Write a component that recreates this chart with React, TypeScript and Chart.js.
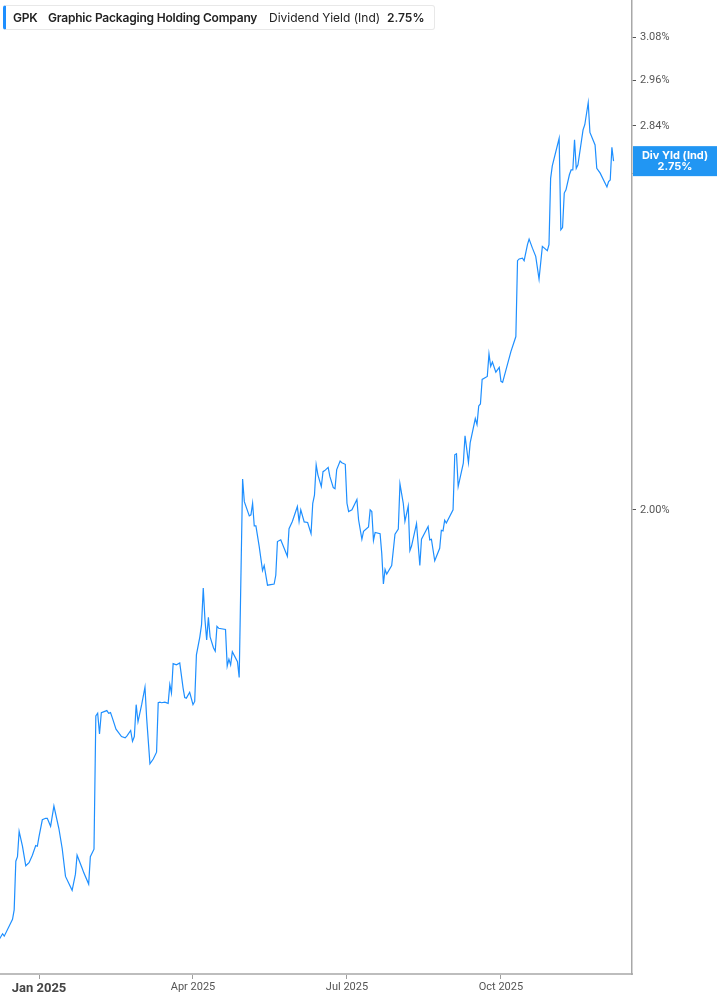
import { useEffect, useRef } from 'react';
import { Chart, registerables } from 'chart.js';

Chart.register(...registerables);

// daily dividend yield readings (%), GPK
const dates = [
  '2024-12-08', '2024-12-10', '2024-12-11', '2024-12-16', '2024-12-17', '2024-12-18', '2024-12-19', '2024-12-20',
  '2024-12-22', '2024-12-24', '2024-12-26', '2024-12-28', '2024-12-30', '2024-12-31',
  '2025-01-01', '2025-01-03', '2025-01-05', '2025-01-06', '2025-01-08', '2025-01-10', '2025-01-13', '2025-01-15',
  '2025-01-17', '2025-01-21', '2025-01-23', '2025-01-24', '2025-01-27', '2025-01-28', '2025-01-31',
  '2025-02-01', '2025-02-03', '2025-02-04', '2025-02-05', '2025-02-06', '2025-02-07', '2025-02-10', '2025-02-11',
  '2025-02-12', '2025-02-13', '2025-02-15', '2025-02-18', '2025-02-20', '2025-02-21', '2025-02-23', '2025-02-24',
  '2025-02-25', '2025-02-26', '2025-02-27',
  '2025-03-01', '2025-03-03', '2025-03-04', '2025-03-06', '2025-03-08', '2025-03-10', '2025-03-11', '2025-03-12',
  '2025-03-13', '2025-03-15', '2025-03-17', '2025-03-18', '2025-03-19', '2025-03-20', '2025-03-22', '2025-03-24',
  '2025-03-26', '2025-03-27', '2025-03-28', '2025-03-30',
  '2025-04-01', '2025-04-02', '2025-04-03', '2025-04-05', '2025-04-06', '2025-04-07', '2025-04-08', '2025-04-09',
  '2025-04-10', '2025-04-11', '2025-04-13', '2025-04-14', '2025-04-15', '2025-04-16', '2025-04-20', '2025-04-21',
  '2025-04-22', '2025-04-23', '2025-04-24', '2025-04-27', '2025-04-28', '2025-04-30',
  '2025-05-01', '2025-05-04', '2025-05-05', '2025-05-06', '2025-05-07', '2025-05-08', '2025-05-10', '2025-05-12',
  '2025-05-13', '2025-05-15', '2025-05-19', '2025-05-20', '2025-05-21', '2025-05-23', '2025-05-27', '2025-05-28',
  '2025-05-30',
  '2025-06-02', '2025-06-03', '2025-06-04', '2025-06-06', '2025-06-08', '2025-06-10', '2025-06-11', '2025-06-12',
  '2025-06-13', '2025-06-14', '2025-06-16', '2025-06-17', '2025-06-18', '2025-06-20', '2025-06-21', '2025-06-23',
  '2025-06-24', '2025-06-25', '2025-06-27', '2025-06-28', '2025-06-30',
  '2025-07-01', '2025-07-02', '2025-07-04', '2025-07-07', '2025-07-08', '2025-07-10', '2025-07-11', '2025-07-14',
  '2025-07-15', '2025-07-16', '2025-07-17', '2025-07-18', '2025-07-21', '2025-07-22', '2025-07-23', '2025-07-24',
  '2025-07-25', '2025-07-28', '2025-07-30',
  '2025-08-01', '2025-08-02', '2025-08-04', '2025-08-05', '2025-08-07', '2025-08-08', '2025-08-09', '2025-08-12',
  '2025-08-14', '2025-08-15', '2025-08-19', '2025-08-20', '2025-08-21', '2025-08-23', '2025-08-26', '2025-08-27',
  '2025-08-28', '2025-08-29', '2025-08-30',
  '2025-09-03', '2025-09-04', '2025-09-05', '2025-09-06', '2025-09-09', '2025-09-10', '2025-09-12', '2025-09-13',
  '2025-09-16', '2025-09-17', '2025-09-18', '2025-09-19', '2025-09-20', '2025-09-23', '2025-09-24', '2025-09-25',
  '2025-09-26', '2025-09-28', '2025-09-30',
  '2025-10-01', '2025-10-02', '2025-10-07', '2025-10-10', '2025-10-11', '2025-10-12', '2025-10-14', '2025-10-15',
  '2025-10-17', '2025-10-18', '2025-10-20', '2025-10-22', '2025-10-24', '2025-10-26', '2025-10-29', '2025-10-30',
  '2025-10-31',
  '2025-11-01', '2025-11-05', '2025-11-06', '2025-11-07', '2025-11-08', '2025-11-09', '2025-11-11', '2025-11-12',
  '2025-11-13', '2025-11-14', '2025-11-15', '2025-11-16', '2025-11-19', '2025-11-20', '2025-11-22', '2025-11-23',
  '2025-11-26', '2025-11-27', '2025-11-29',
  '2025-12-03', '2025-12-04', '2025-12-05', '2025-12-06', '2025-12-07',
];

const divYield = [
  1.351, 1.358, 1.355, 1.376, 1.388, 1.451, 1.457, 1.491,
  1.471, 1.445, 1.449, 1.459, 1.472, 1.471,
  1.484, 1.507, 1.509, 1.509, 1.498, 1.526, 1.495, 1.468,
  1.431, 1.413, 1.434, 1.459, 1.442, 1.436, 1.421,
  1.457, 1.467, 1.657, 1.661, 1.630, 1.662, 1.665, 1.661,
  1.662, 1.654, 1.637, 1.626, 1.624, 1.627, 1.635, 1.619,
  1.626, 1.674, 1.648,
  1.674, 1.701, 1.654, 1.586, 1.593, 1.603, 1.677, 1.678,
  1.677, 1.678, 1.676, 1.705, 1.692, 1.738, 1.736, 1.739,
  1.700, 1.685, 1.684, 1.693,
  1.674, 1.679, 1.752, 1.781, 1.801, 1.862, 1.809, 1.776,
  1.813, 1.781, 1.763, 1.758, 1.798, 1.795, 1.793, 1.734,
  1.745, 1.736, 1.757, 1.741, 1.716, 2.057,
  2.015, 1.989, 1.991, 2.012, 1.971, 1.971, 1.934, 1.892,
  1.901, 1.867, 1.869, 1.884, 1.943, 1.946, 1.917, 1.966,
  1.979,
  2.006, 1.979, 2.000, 1.978, 1.977, 1.957, 2.012, 2.027,
  2.084, 2.065, 2.043, 2.071, 2.073, 2.079, 2.062, 2.041,
  2.039, 2.075, 2.091, 2.088, 2.085,
  2.012, 1.997, 2.000, 2.019, 1.982, 1.947, 1.961, 1.969,
  2.000, 1.997, 1.945, 1.959, 1.957, 1.922, 1.869, 1.894,
  1.886, 1.901, 1.956,
  1.965, 2.048, 2.012, 1.979, 2.007, 1.927, 1.935, 1.975,
  1.901, 1.947, 1.970, 1.946, 1.947, 1.909, 1.931, 1.963,
  1.962, 1.981, 1.976,
  2.000, 2.103, 2.105, 2.043, 2.087, 2.140, 2.088, 2.126,
  2.174, 2.162, 2.199, 2.203, 2.253, 2.259, 2.306, 2.280,
  2.289, 2.268, 2.278,
  2.249, 2.247, 2.311, 2.343, 2.511, 2.515, 2.517, 2.511,
  2.548, 2.561, 2.540, 2.521, 2.469, 2.544, 2.534, 2.548,
  2.707,
  2.738, 2.808, 2.583, 2.588, 2.671, 2.679, 2.716, 2.728,
  2.728, 2.804, 2.732, 2.741, 2.830, 2.843, 2.901, 2.823,
  2.791, 2.732, 2.720,
  2.686, 2.699, 2.703, 2.785, 2.750,
];

const xTickDates = ['2025-01-01', '2025-04-01', '2025-07-01', '2025-10-01'];
const xTickLabels = ['Jan 2025', 'Apr 2025', 'Jul 2025', 'Oct 2025'];
const yTicks = [2.0, 2.72, 2.84, 2.96, 3.08];

const ticker = 'GPK';
const company = 'Graphic Packaging Holding Company';
const seriesName = 'Dividend Yield (Ind)';
const badgeName = 'Div Yld (Ind)';

const BLUE = '#1e8fff';

// months since Jan 2025 (fractional)
function toMonths(s: string) {
  const [y, m, d] = s.split('-').map(Number);
  const dim = new Date(y, m, 0).getDate();
  return (y - 2025) * 12 + (m - 1) + (d - 1) / dim;
}

const xTickValues = xTickDates.map(toMonths);

const lastValueBadge = {
  id: 'lastValueBadge',
  afterDraw(chart: any) {
    const { ctx, chartArea, scales } = chart;
    const last = divYield[divYield.length - 1];
    const yPx = scales.y.getPixelForValue(last);
    ctx.save();
    ctx.fillStyle = '#2196f3';
    ctx.fillRect(chartArea.right + 1, yPx - 15, chart.width - chartArea.right - 1, 30);
    ctx.fillStyle = '#ffffff';
    ctx.font = 'bold 11px Inter, Roboto, sans-serif';
    ctx.textAlign = 'center';
    ctx.textBaseline = 'middle';
    const cx = chartArea.right + 43;
    ctx.fillText(badgeName, cx, yPx - 5);
    ctx.fillText(last.toFixed(2) + '%', cx, yPx + 6);
    ctx.restore();
  },
};

export default function App() {
  const canvasRef = useRef<HTMLCanvasElement>(null);

  useEffect(() => {
    document.body.style.margin = '0';
    if (!canvasRef.current) return;
    const points = dates.map((d, i) => ({ x: toMonths(d), y: divYield[i] }));

    const chart = new Chart(canvasRef.current, {
      type: 'line',
      data: {
        datasets: [{
          label: seriesName,
          data: points,
          borderColor: BLUE,
          borderWidth: 1.2,
          pointRadius: 0,
          tension: 0,
          fill: false,
        }],
      },
      options: {
        animation: false,
        responsive: true,
        maintainAspectRatio: false,
        devicePixelRatio: 1,
        layout: { padding: 0 },
        plugins: {
          legend: { display: false },
          tooltip: { enabled: false },
        },
        scales: {
          x: {
            type: 'linear',
            bounds: 'data',
            min: -0.76,
            max: 11.553,
            afterBuildTicks: (axis: any) => {
              axis.ticks = xTickValues.map(v => ({ value: v }));
            },
            afterFit: (scale: any) => {
              scale.height = 31;
              scale.paddingLeft = 0;
              scale.paddingRight = 0;
            },
            border: { color: '#bdbdbd', width: 2 },
            grid: { drawOnChartArea: false, tickLength: 5, color: '#9e9e9e' },
            ticks: {
              padding: 2,
              maxRotation: 0,
              autoSkip: false,
              color: (c: any) => (c.index === 0 ? '#444' : '#555'),
              font: (c: any) => (c.index === 0
                ? { family: 'Roboto, sans-serif', size: 13, weight: 'bold' }
                : { family: 'Roboto, sans-serif', size: 11 }),
              callback: (_v: any, i: number) => xTickLabels[i],
            },
          },
          y: {
            type: 'logarithmic',
            position: 'right',
            bounds: 'data',
            min: 1.309,
            max: 3.186,
            afterBuildTicks: (axis: any) => {
              axis.ticks = yTicks.map(v => ({ value: v }));
            },
            afterFit: (scale: any) => {
              scale.width = 85;
              scale.paddingTop = 0;
              scale.paddingBottom = 0;
            },
            border: { color: '#a8a8a8', width: 1.5 },
            grid: { drawOnChartArea: false, tickLength: 4, color: '#555' },
            ticks: {
              padding: 4,
              color: '#555',
              font: { family: 'Roboto, sans-serif', size: 11 },
              callback: (v: any) => Number(v).toFixed(2) + '%',
            },
          },
        },
      },
      plugins: [lastValueBadge],
    });

    return () => chart.destroy();
  }, []);

  const textBase = { position: 'absolute' as const, top: 0, lineHeight: '23px', whiteSpace: 'nowrap' as const };

  return (
    <div style={{ position: 'relative', width: 717, height: 1005, fontFamily: 'Inter, sans-serif' }}>
      <canvas ref={canvasRef} style={{ display: 'block' }} />
      <div
        style={{
          position: 'absolute', left: 3, top: 5, width: 432, height: 25, boxSizing: 'border-box',
          background: '#fff', border: '1px solid #e8e8e8', borderLeft: `3px solid ${BLUE}`, borderRadius: 3,
          fontSize: 12, color: '#222',
        }}
      >
        <span style={{ ...textBase, left: 7, fontWeight: 600, letterSpacing: -0.2 }}>{ticker}</span>
        <span style={{ ...textBase, left: 42, fontWeight: 600, letterSpacing: -0.2 }}>{company}</span>
        <span style={{ ...textBase, left: 263, fontWeight: 400 }}>{seriesName}</span>
        <span style={{ ...textBase, left: 381, fontWeight: 600 }}>{divYield[divYield.length - 1].toFixed(2)}%</span>
      </div>
    </div>
  );
}
